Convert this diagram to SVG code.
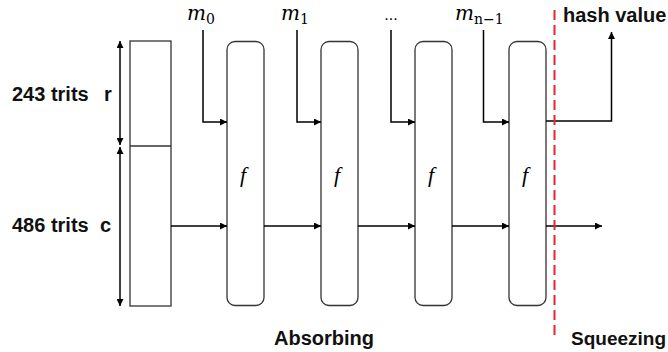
<svg xmlns="http://www.w3.org/2000/svg" width="668" height="352" viewBox="0 0 668 352">
<defs>
<marker id="ah" viewBox="0 0 10 10" refX="10" refY="5" markerWidth="7" markerHeight="7" markerUnits="userSpaceOnUse" orient="auto-start-reverse">
<path d="M0,0 L10,5 L0,10 z" fill="#000"/>
</marker>
<style>
.lbl{font-family:"Liberation Sans",Arial,sans-serif;font-weight:bold;font-size:20px;fill:#111}
.box{fill:#fff;stroke:#333;stroke-width:1.3}
.conn{fill:none;stroke:#000;stroke-width:1.5}
.mi{font-family:"DejaVu Serif","Liberation Serif",serif;font-style:italic;font-size:20px;fill:#000}
.sub{font-style:normal;font-size:14px}
.f{font-family:"Liberation Serif",serif;font-style:italic;font-size:22px;fill:#000}
.dots{font-family:"Liberation Sans",Arial,sans-serif;font-size:16px;fill:#000}
</style>
</defs>
<rect width="668" height="352" fill="#fff"/>

<g id="state">
<rect class="box" x="130" y="41" width="41" height="265"/>
<line x1="130" y1="146" x2="171" y2="146" stroke="#333" stroke-width="1.3"/>
</g>

<g id="labels">
<text class="lbl" x="12" y="101">243 trits</text>
<text class="lbl" x="104" y="101">r</text>
<text class="lbl" x="12" y="232">486 trits</text>
<text class="lbl" x="100" y="232">c</text>
<text class="lbl" x="563" y="22">hash value</text>
<text class="lbl" x="274" y="345">Absorbing</text>
<text class="lbl" x="571" y="345" style="font-size:19px">Squeezing</text>
</g>

<g id="f1"><rect class="box" x="227" y="41.5" width="37" height="264" rx="8"/><text class="f" x="243" y="182" text-anchor="middle">f</text></g>
<g id="f2"><rect class="box" x="321" y="41.5" width="37" height="264" rx="8"/><text class="f" x="337" y="182" text-anchor="middle">f</text></g>
<g id="f3"><rect class="box" x="415" y="41.5" width="37" height="264" rx="8"/><text class="f" x="431" y="182" text-anchor="middle">f</text></g>
<g id="f4"><rect class="box" x="509" y="41.5" width="37" height="264" rx="8"/><text class="f" x="525" y="182" text-anchor="middle">f</text></g>

<g id="inputs">
<text class="mi" x="187" y="20">m<tspan class="sub" dy="4">0</tspan></text>
<text class="mi" x="281" y="20">m<tspan class="sub" dy="4">1</tspan></text>
<text class="dots" x="391" y="20" text-anchor="middle">...</text>
<text class="mi" x="455" y="20">m<tspan class="sub" dy="4">n−1</tspan></text>
</g>

<g id="connectors">
<line class="conn" x1="120" y1="41" x2="120" y2="145" marker-start="url(#ah)" marker-end="url(#ah)"/>
<line class="conn" x1="120" y1="147" x2="120" y2="306" marker-start="url(#ah)" marker-end="url(#ah)"/>
<polyline class="conn" points="203,30 203,122 227,122" marker-end="url(#ah)"/>
<polyline class="conn" points="297,30 297,122 321,122" marker-end="url(#ah)"/>
<polyline class="conn" points="391,30 391,122 415,122" marker-end="url(#ah)"/>
<polyline class="conn" points="483.5,30 483.5,122 509,122" marker-end="url(#ah)"/>
<line class="conn" x1="171" y1="226" x2="227" y2="226" marker-end="url(#ah)"/>
<line class="conn" x1="264" y1="226" x2="321" y2="226" marker-end="url(#ah)"/>
<line class="conn" x1="358" y1="226" x2="415" y2="226" marker-end="url(#ah)"/>
<line class="conn" x1="452" y1="226" x2="509" y2="226" marker-end="url(#ah)"/>
<line class="conn" x1="546" y1="226" x2="602" y2="226" marker-end="url(#ah)"/>
<polyline class="conn" points="546,121 611.5,121 611.5,32" marker-end="url(#ah)"/>
<line x1="554.5" y1="10" x2="554.5" y2="340" stroke="#e8272d" stroke-width="2" stroke-dasharray="10 5"/>
</g>
</svg>
